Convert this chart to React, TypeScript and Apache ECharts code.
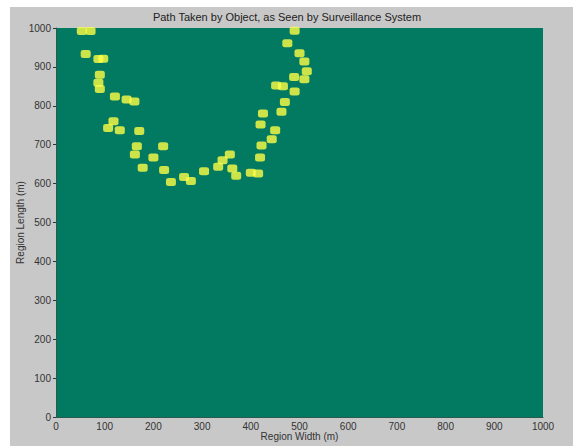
import React, { useEffect, useRef } from "react";
import * as echarts from "echarts";

const titleText = "Path Taken by Object, as Seen by Surveillance System";
const xAxisName = "Region Width (m)";
const yAxisName = "Region Length (m)";
const axisMin = 0;
const axisMax = 1000;
const axisStep = 100;

const pathX = [53, 71, 61, 87, 97, 90, 87, 90, 121, 145, 161, 118, 107, 131, 171, 166, 220, 162, 200, 178, 222, 236, 263, 277, 304, 333, 342, 357, 362, 370, 400, 415, 419, 422, 443, 450, 425, 420, 463, 470, 490, 452, 466, 489, 515, 510, 500, 510, 475, 490];
const pathY = [992, 992, 933, 920, 921, 880, 859, 843, 824, 816, 811, 760, 743, 737, 735, 696, 696, 675, 667, 641, 635, 604, 617, 607, 632, 643, 660, 675, 639, 620, 628, 626, 667, 698, 714, 737, 780, 752, 785, 810, 837, 852, 850, 874, 889, 868, 935, 914, 961, 993];

export default function App() {
  const ref = useRef<HTMLDivElement>(null);
  useEffect(() => {
    if (!ref.current) return;
    const chart = echarts.init(ref.current, undefined, { renderer: "svg" });
    const font = "Arial, 'Liberation Sans', sans-serif";
    const fmt = (v: number) => String(v);
    chart.setOption({
      animation: false,
      backgroundColor: "#ffffff",
      graphic: [
        {
          type: "rect",
          z: -10,
          silent: true,
          shape: { x: 10, y: 7, width: 563, height: 439 },
          style: { fill: "#c8c8c8" },
        },
      ],
      title: {
        text: titleText,
        left: "center",
        top: 11,
        padding: 0,
        textStyle: { fontFamily: font, fontSize: 11, fontWeight: "normal", color: "#222" },
      },
      grid: {
        left: 56,
        right: 31,
        top: 28,
        bottom: 27,
        show: true,
        backgroundColor: "#027a62",
        borderWidth: 0,
      },
      xAxis: {
        type: "value",
        min: axisMin,
        max: axisMax,
        interval: axisStep,
        name: xAxisName,
        nameLocation: "middle",
        nameGap: 14,
        nameMoveOverlap: false,
        nameTextStyle: { fontFamily: font, fontSize: 10, color: "#333" },
        axisLine: { show: true, lineStyle: { color: "#2a5a50", width: 1 } },
        axisTick: { show: false },
        splitLine: { show: false },
        axisLabel: { fontFamily: font, fontSize: 10, color: "#333", margin: 4, formatter: fmt },
      },
      yAxis: {
        type: "value",
        min: axisMin,
        max: axisMax,
        interval: axisStep,
        name: yAxisName,
        nameLocation: "middle",
        nameGap: 31,
        nameMoveOverlap: false,
        nameTextStyle: { fontFamily: font, fontSize: 10, color: "#333" },
        axisLine: { show: true, lineStyle: { color: "#2a5a50", width: 1 } },
        axisTick: { show: true, length: 3, lineStyle: { color: "#333" } },
        splitLine: { show: false },
        axisLabel: { fontFamily: font, fontSize: 10, color: "#333", margin: 5, formatter: fmt },
      },
      series: [
        {
          type: "scatter",
          data: pathX.map((x, i) => [x, pathY[i]]),
          symbol: "roundRect",
          symbolSize: [10, 8],
          itemStyle: { color: "#ffff45" },
        },
      ],
    });
    return () => chart.dispose();
  }, []);
  return <div ref={ref} style={{ position: "absolute", left: 0, top: 0, width: 574, height: 446 }} />;
}
